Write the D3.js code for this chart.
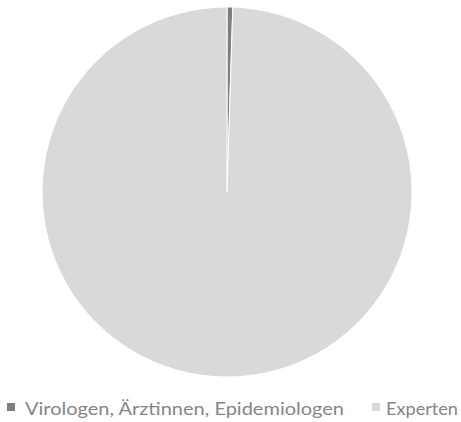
<!DOCTYPE html>
<html><head><meta charset="utf-8">
<script src="https://cdn.jsdelivr.net/npm/d3@7"></script>
<style>body{margin:0;background:#fff}</style>
</head><body>
<svg id="c" width="461" height="422"></svg>
<script>
const categories = ["Virologen, Ärztinnen, Epidemiologen", "Experten"];
const values = [0.5, 99.5];
const colors = ["#7f7f7f", "#d9d9d9"];

const svg = d3.select("#c");
const cx = 227, cy = 192, r = 185;
const pie = d3.pie().sort(null).value(d => d.v);
const arc = d3.arc().innerRadius(0).outerRadius(r);
const data = categories.map((c, i) => ({c, v: values[i], col: colors[i]}));
const g = svg.append("g").attr("transform", `translate(${cx},${cy})`);
g.selectAll("path").data(pie(data)).join("path")
  .attr("d", arc).attr("fill", d => d.data.col)
  .attr("stroke", "#fff").attr("stroke-width", 1);

// legend
const leg = [
  {mx: 7, tx: 25, tw: 319},
  {mx: 372, tx: 386, tw: 72}
];
const ly = 415;
data.forEach((d, i) => {
  svg.append("rect").attr("x", leg[i].mx).attr("y", 403).attr("width", 8).attr("height", 8).attr("fill", d.col);
  svg.append("text").attr("x", leg[i].tx).attr("y", ly)
    .attr("font-family", "Lato, 'Open Sans', sans-serif").attr("font-size", 18)
    .attr("fill", "#858585")
    .attr("textLength", leg[i].tw).attr("lengthAdjust", "spacingAndGlyphs")
    .text(d.c);
});
</script>
</body></html>
